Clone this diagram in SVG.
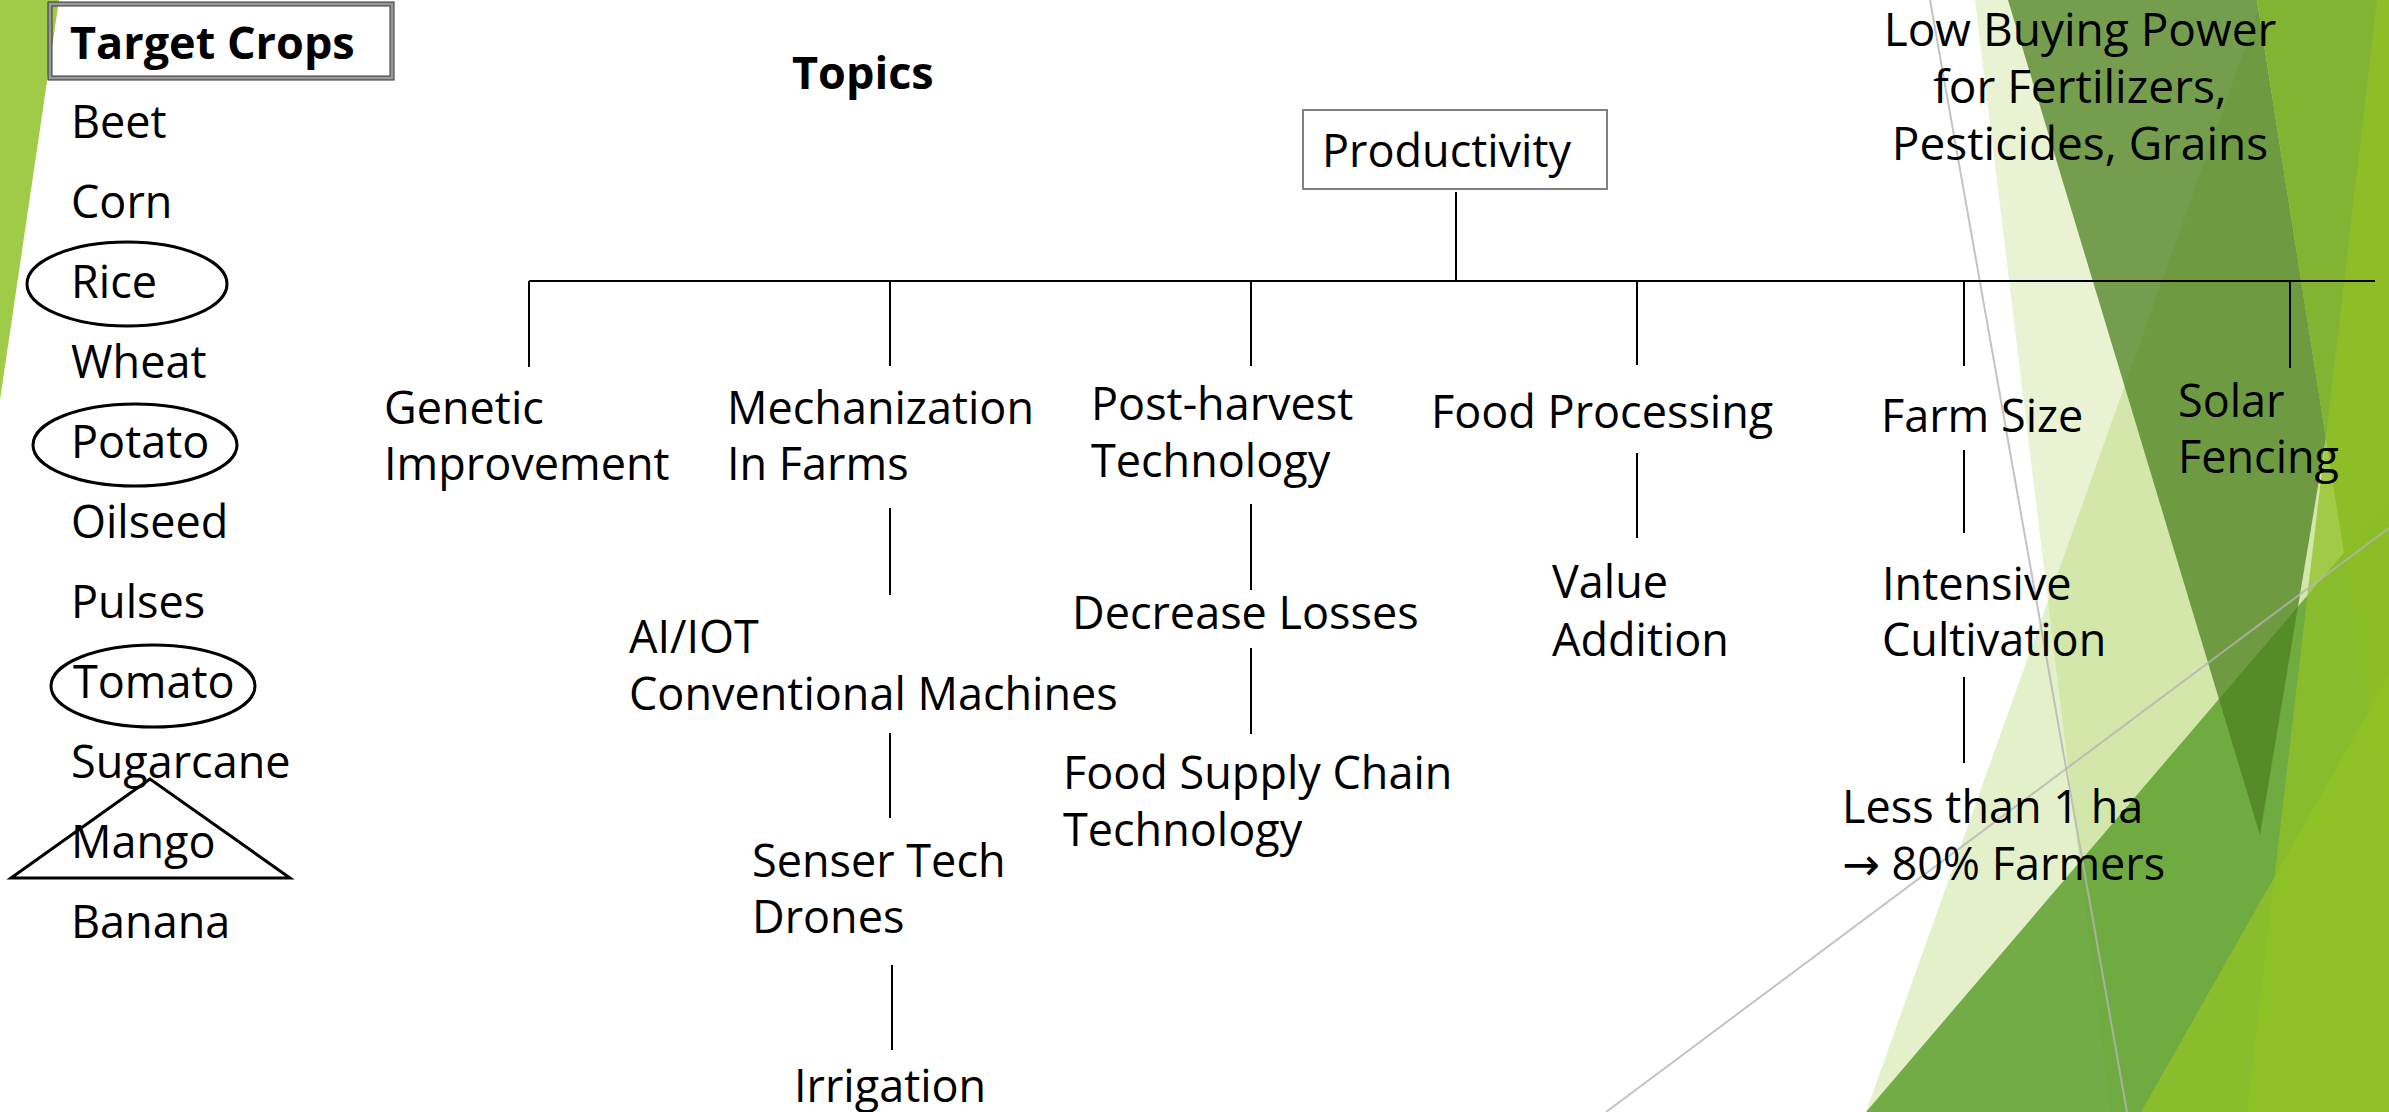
<svg xmlns="http://www.w3.org/2000/svg" width="2389" height="1112" viewBox="0 0 2389 1112">
<style>
.t{font-family:"Open Sans","Liberation Sans",sans-serif;font-size:45px;fill:#000}
.b{font-family:"Open Sans","Liberation Sans",sans-serif;font-size:45px;font-weight:bold;fill:#000}
.ar{font-family:"DejaVu Sans",sans-serif}
.c{stroke:#000;stroke-width:2;fill:none}
.mk{stroke:#000;stroke-width:3;fill:none}
.gl{stroke:#B4B4B4;stroke-width:2;fill:none;opacity:0.8}
.acc{fill:#90C226}
</style>
<rect width="2389" height="1112" fill="#fff"/>
<g id="background">
<polygon points="0,0 59,0 0,400" fill="#A0CB48"/>
<polygon class="acc" points="1975,0 2389,0 2389,1112 2110,1112" opacity="0.2"/>
<polygon class="acc" points="1866,1112 2262,0 2389,0 2389,1112" opacity="0.25"/>
<polygon points="1866,1112 2389,500 2389,1112" fill="#5FA030" opacity="0.85"/>
<polygon points="2008,0 2257,0 2326,438 2260,835" fill="#4C8220" opacity="0.75"/>
<polygon points="2257,0 2389,0 2389,840" fill="#7DB02B" opacity="0.95"/>
<polygon class="acc" points="2377,0 2389,0 2389,1112 2247,1112" opacity="0.75"/>
<polygon class="acc" points="2141,1112 2389,675 2389,1112" opacity="0.8"/>
<line class="gl" x1="1930" y1="0" x2="2127" y2="1112"/>
<line class="gl" x1="1606" y1="1112" x2="2389" y2="528"/>
</g>
<g id="target-crops">
<rect x="50" y="4" width="342" height="74" fill="none" stroke="#999" stroke-width="4"/>
<rect x="48" y="2" width="346" height="78" fill="none" stroke="#333" stroke-width="1"/>
<rect x="52" y="6" width="338" height="70" fill="none" stroke="#333" stroke-width="1"/>
<text class="b" x="70" y="59">Target Crops</text>
</g>
<g id="crop-list">
<text class="t" x="71" y="138">Beet</text>
<text class="t" x="71" y="218">Corn</text>
<text class="t" x="71" y="298">Rice</text>
<text class="t" x="71" y="378">Wheat</text>
<text class="t" x="71" y="458">Potato</text>
<text class="t" x="71" y="538">Oilseed</text>
<text class="t" x="71" y="618">Pulses</text>
<text class="t" x="73" y="698">Tomato</text>
<text class="t" x="71" y="778">Sugarcane</text>
<text class="t" x="71" y="858">Mango</text>
<text class="t" x="71" y="938">Banana</text>
<ellipse class="mk" cx="127" cy="284" rx="100" ry="42"/>
<ellipse class="mk" cx="135" cy="445" rx="102" ry="41"/>
<ellipse class="mk" cx="153" cy="686" rx="102" ry="41"/>
<polygon class="mk" points="150,779 11,878 290,878"/>
</g>
<g id="topics"><text class="b" x="792" y="89">Topics</text></g>
<g id="productivity">
<rect x="1303" y="110" width="304" height="79" fill="#fff" stroke="#808080" stroke-width="2"/>
<text class="t" x="1322" y="167">Productivity</text>
</g>
<g id="genetic"><text class="t" x="384" y="424">Genetic</text><text class="t" x="384" y="480">Improvement</text></g>
<g id="mechanization"><text class="t" x="727" y="424">Mechanization</text><text class="t" x="727" y="480">In Farms</text></g>
<g id="ai-iot"><text class="t" x="629" y="653">AI/IOT</text><text class="t" x="629" y="710">Conventional Machines</text></g>
<g id="senser"><text class="t" x="752" y="877">Senser Tech</text><text class="t" x="752" y="933">Drones</text></g>
<g id="irrigation"><text class="t" x="794" y="1102">Irrigation</text></g>
<g id="post-harvest"><text class="t" x="1091" y="420">Post-harvest</text><text class="t" x="1091" y="477">Technology</text></g>
<g id="decrease-losses"><text class="t" x="1072" y="629">Decrease Losses</text></g>
<g id="food-supply"><text class="t" x="1063" y="789">Food Supply Chain</text><text class="t" x="1063" y="846">Technology</text></g>
<g id="food-processing"><text class="t" x="1431" y="428">Food Processing</text></g>
<g id="value-addition"><text class="t" x="1552" y="598">Value</text><text class="t" x="1552" y="656">Addition</text></g>
<g id="farm-size"><text class="t" x="1881" y="432">Farm Size</text></g>
<g id="intensive"><text class="t" x="1882" y="600">Intensive</text><text class="t" x="1882" y="656">Cultivation</text></g>
<g id="less-than"><text class="t" x="1842" y="823">Less than 1 ha</text><text class="t" x="1842" y="880"><tspan class="ar">→</tspan> 80% Farmers</text></g>
<g id="solar"><text class="t" x="2178" y="417">Solar</text><text class="t" x="2178" y="473">Fencing</text></g>
<g id="buying-power">
<text class="t" x="2080" y="46" text-anchor="middle" style="font-size:46px">Low Buying Power</text>
<text class="t" x="2080" y="103" text-anchor="middle" style="font-size:46px">for Fertilizers,</text>
<text class="t" x="2080" y="160" text-anchor="middle" style="font-size:46px">Pesticides, Grains</text>
</g>
<g id="connectors">
<line class="c" x1="1456" y1="192" x2="1456" y2="281"/>
<line class="c" x1="529" y1="281" x2="2375" y2="281"/>
<line class="c" x1="529" y1="281" x2="529" y2="367"/>
<line class="c" x1="890" y1="281" x2="890" y2="366"/>
<line class="c" x1="1251" y1="281" x2="1251" y2="366"/>
<line class="c" x1="1637" y1="281" x2="1637" y2="365"/>
<line class="c" x1="1964" y1="281" x2="1964" y2="366"/>
<line class="c" x1="2290" y1="281" x2="2290" y2="368"/>
<line class="c" x1="890" y1="508" x2="890" y2="595"/>
<line class="c" x1="890" y1="733" x2="890" y2="818"/>
<line class="c" x1="892" y1="965" x2="892" y2="1050"/>
<line class="c" x1="1251" y1="504" x2="1251" y2="590"/>
<line class="c" x1="1251" y1="648" x2="1251" y2="734"/>
<line class="c" x1="1637" y1="453" x2="1637" y2="538"/>
<line class="c" x1="1964" y1="450" x2="1964" y2="533"/>
<line class="c" x1="1964" y1="677" x2="1964" y2="763"/>
</g>
</svg>
